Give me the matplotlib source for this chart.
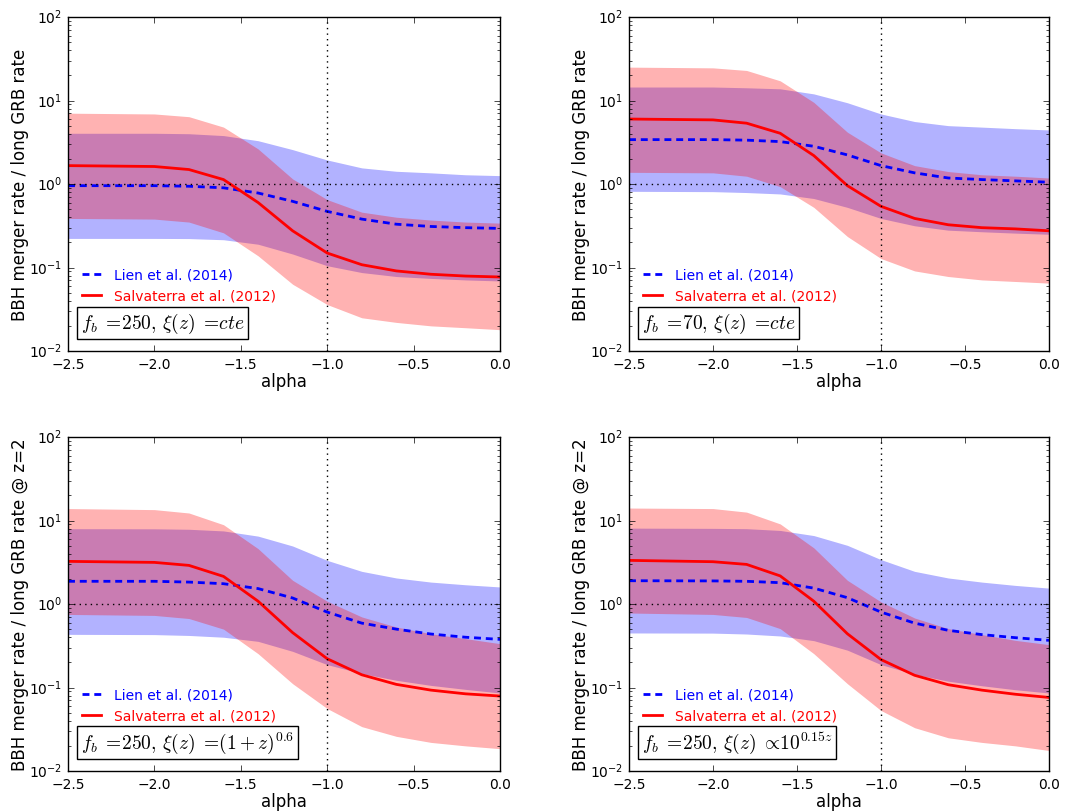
import numpy as np
import matplotlib
matplotlib.use("Agg")
import matplotlib.pyplot as plt

alpha = [-2.5, -2.0, -1.8, -1.6, -1.4, -1.2, -1.0, -0.8, -0.6, -0.4, -0.2, 0.0]

# Panel 1: f_b=250, xi=cte
p1_lien = [0.955, 0.955, 0.94, 0.90, 0.78, 0.62, 0.47, 0.38, 0.33, 0.31, 0.30, 0.294]
p1_lien_hi = [4.05, 4.05, 4.0, 3.8, 3.3, 2.58, 1.94, 1.56, 1.42, 1.36, 1.29, 1.26]
p1_lien_lo = [0.223, 0.223, 0.222, 0.215, 0.19, 0.145, 0.105, 0.087, 0.078, 0.074, 0.071, 0.069]
p1_salv = [1.66, 1.62, 1.49, 1.13, 0.60, 0.275, 0.149, 0.108, 0.091, 0.083, 0.079, 0.077]
p1_salv_hi = [7.05, 6.9, 6.4, 4.8, 2.63, 1.15, 0.65, 0.46, 0.40, 0.37, 0.35, 0.34]
p1_salv_lo = [0.387, 0.38, 0.35, 0.26, 0.138, 0.063, 0.036, 0.025, 0.022, 0.020, 0.019, 0.018]

# Panel 2: f_b=70, xi=cte
p2_lien = [3.4, 3.4, 3.35, 3.22, 2.83, 2.23, 1.66, 1.36, 1.18, 1.13, 1.09, 1.05]
p2_lien_hi = [14.5, 14.5, 14.2, 13.8, 12.0, 9.4, 6.9, 5.6, 5.0, 4.8, 4.6, 4.44]
p2_lien_lo = [0.817, 0.81, 0.79, 0.76, 0.67, 0.525, 0.387, 0.316, 0.28, 0.268, 0.258, 0.25]
p2_salv = [6.0, 5.86, 5.35, 4.05, 2.19, 0.955, 0.54, 0.387, 0.325, 0.30, 0.29, 0.275]
p2_salv_hi = [25.1, 24.6, 22.9, 17.2, 9.5, 4.17, 2.36, 1.66, 1.41, 1.29, 1.24, 1.18]
p2_salv_lo = [1.38, 1.36, 1.24, 0.93, 0.525, 0.235, 0.128, 0.091, 0.078, 0.071, 0.068, 0.065]

# Panel 3: f_b=250, xi=(1+z)^0.6
p3_lien = [1.87, 1.87, 1.83, 1.75, 1.53, 1.18, 0.80, 0.59, 0.50, 0.437, 0.40, 0.377]
p3_lien_hi = [7.98, 7.95, 7.85, 7.5, 6.5, 4.95, 3.33, 2.46, 2.05, 1.83, 1.70, 1.60]
p3_lien_lo = [0.433, 0.43, 0.42, 0.40, 0.357, 0.271, 0.188, 0.147, 0.122, 0.106, 0.095, 0.086]
p3_salv = [3.24, 3.15, 2.90, 2.14, 1.08, 0.454, 0.221, 0.142, 0.109, 0.093, 0.084, 0.079]
p3_salv_hi = [13.9, 13.5, 12.3, 8.9, 4.6, 1.92, 1.08, 0.70, 0.53, 0.44, 0.385, 0.335]
p3_salv_lo = [0.75, 0.73, 0.67, 0.50, 0.254, 0.111, 0.056, 0.034, 0.026, 0.022, 0.020, 0.0185]

# Panel 4: f_b=250, xi ∝ 10^(0.15z)
p4_lien = [1.90, 1.89, 1.87, 1.80, 1.55, 1.19, 0.80, 0.59, 0.484, 0.43, 0.395, 0.367]
p4_lien_hi = [8.1, 8.05, 7.98, 7.6, 6.6, 5.04, 3.4, 2.46, 2.05, 1.83, 1.67, 1.55]
p4_lien_lo = [0.45, 0.448, 0.437, 0.414, 0.364, 0.28, 0.188, 0.144, 0.119, 0.105, 0.094, 0.086]
p4_salv = [3.33, 3.21, 2.98, 2.17, 1.08, 0.44, 0.216, 0.14, 0.108, 0.093, 0.083, 0.076]
p4_salv_hi = [14.1, 13.9, 12.6, 9.1, 4.7, 1.92, 1.06, 0.68, 0.507, 0.43, 0.367, 0.326]
p4_salv_lo = [0.78, 0.75, 0.69, 0.507, 0.254, 0.111, 0.053, 0.033, 0.025, 0.022, 0.020, 0.0176]

ylabels = ["BBH merger rate / long GRB rate",
           "BBH merger rate / long GRB rate",
           "BBH merger rate / long GRB rate @ z=2",
           "BBH merger rate / long GRB rate @ z=2"]
notes = [r"$f_b\;{=}\!250,\,\xi(z)\;{=}\!cte$",
         r"$f_b\;{=}\!70,\,\xi(z)\;{=}\!cte$",
         r"$f_b\;{=}\!250,\,\xi(z)\;{=}\!(1+z)^{0.6}$",
         r"$f_b\;{=}\!250,\,\xi(z)\;{\propto}\!10^{0.15z}$"]
panels = [
    (p1_lien, p1_lien_lo, p1_lien_hi, p1_salv, p1_salv_lo, p1_salv_hi),
    (p2_lien, p2_lien_lo, p2_lien_hi, p2_salv, p2_salv_lo, p2_salv_hi),
    (p3_lien, p3_lien_lo, p3_lien_hi, p3_salv, p3_salv_lo, p3_salv_hi),
    (p4_lien, p4_lien_lo, p4_lien_hi, p4_salv, p4_salv_lo, p4_salv_hi),
]

plt.style.use('classic')
plt.rcParams['mathtext.fontset'] = 'cm'
plt.rcParams['font.family'] = 'DejaVu Sans'

W, H = 1077, 812
fig = plt.figure(figsize=(W / 100, H / 100), dpi=100, facecolor='white')

# axes boxes in pixels: (left, top, right, bottom)
boxes = [(68, 18, 500, 352), (629, 18, 1049, 352),
         (68, 438, 500, 772), (629, 438, 1049, 772)]

for i, (box, pan) in enumerate(zip(boxes, panels)):
    l, t, r, b = box
    ax = fig.add_axes([l / W, 1 - b / H, (r - l) / W, (b - t) / H])
    lien, lien_lo, lien_hi, salv, salv_lo, salv_hi = pan
    ax.fill_between(alpha, lien_lo, lien_hi, color='b', alpha=0.3, lw=0)
    ax.fill_between(alpha, salv_lo, salv_hi, color='r', alpha=0.3, lw=0)
    ax.plot(alpha, lien, color='b', lw=2, linestyle=(0, (5.0, 3.5)),
            label='Lien et al. (2014)')
    ax.plot(alpha, salv, color='r', lw=2, linestyle='-',
            label='Salvaterra et al. (2012)')
    ax.axhline(1.0, color='k', ls=':', lw=1)
    ax.axvline(-1.0, color='k', ls=':', lw=1)
    ax.set_yscale('log')
    ax.set_ylim(1e-2, 1e2)
    ax.set_xlim(-2.5, 0.0)
    ax.set_xticks([-2.5, -2.0, -1.5, -1.0, -0.5, 0.0])
    ax.set_xticklabels(['\u22122.5', '\u22122.0', '\u22121.5', '\u22121.0', '\u22120.5', '0.0'])
    ax.tick_params(labelsize=10)
    ax.set_xlabel('alpha', fontsize=12, labelpad=1)
    ax.set_ylabel(ylabels[i], fontsize=12, labelpad=0)
    leg = ax.legend(loc='lower left', bbox_to_anchor=(0.0, 0.115), frameon=False,
                    fontsize=10, handlelength=2.0, handletextpad=0.6, labelspacing=0.5,
                    borderaxespad=0.3)
    for txt, line in zip(leg.get_texts(), leg.get_lines()):
        txt.set_color(line.get_color())
    ax.text(0.03, 0.085, notes[i], transform=ax.transAxes, fontsize=14,
            va='center', ha='left',
            bbox=dict(facecolor='white', edgecolor='k', boxstyle='square,pad=0.2', lw=1))

fig.savefig('out.png', dpi=100, facecolor='white')
